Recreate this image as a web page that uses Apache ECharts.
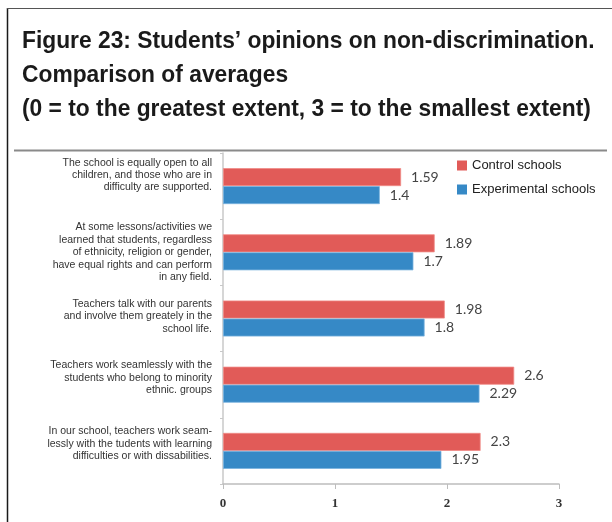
<!DOCTYPE html>
<html>
<head>
<meta charset="utf-8">
<script src="https://cdn.jsdelivr.net/npm/echarts@6/dist/echarts.min.js"></script>
<style>
  html, body { margin: 0; padding: 0; background: #ffffff; }
  #chart { width: 612px; height: 522px; }
</style>
</head>
<body>
<div id="chart"></div>
<script>
// Survey statements (top to bottom) and average scores per school group
const categories = [
  'The school is equally open to all\nchildren, and those who are in\ndifficulty are supported.',
  'At some lessons/activities we\nlearned that students, regardless\nof ethnicity, religion or gender,\nhave equal rights and can perform\nin any field.',
  'Teachers talk with our parents\nand involve them greately in the\nschool life.',
  'Teachers work seamlessly with the\nstudents who belong to minority\nethnic. groups',
  'In our school, teachers work seam-\nlessly with the tudents with learning\ndifficulties or with dissabilities.'
];
const controlSchools = [1.59, 1.89, 1.98, 2.6, 2.3];
const experimentalSchools = [1.4, 1.7, 1.8, 2.29, 1.95];
const xTicks = [0, 1, 2, 3];

const titleText = 'Figure 23: Students\u2019 opinions on non-discrimination.\nComparison of averages\n(0 = to the greatest extent, 3 = to the smallest extent)';

// upward nudge (px) for each wrapped statement label
const labelLift = [11, 0, 2, 7, 7];

// an invisible spacer line below a label lifts the centred block by half its height
const spacerRich = {};
labelLift.forEach((lift, i) => {
  spacerRich['s' + i] = { fontSize: 1, lineHeight: Math.max(1, lift * 2), height: Math.max(1, lift * 2) };
});

const chart = echarts.init(document.getElementById('chart'), null, { renderer: 'canvas' });

const option = {
  backgroundColor: '#ffffff',
  animation: false,
  graphic: [
    { type: 'line', shape: { x1: 7.5, y1: 8, x2: 7.5, y2: 522 }, style: { stroke: '#1a1a1a', lineWidth: 1.5 } },
    { type: 'line', shape: { x1: 7, y1: 8.5, x2: 612, y2: 8.5 }, style: { stroke: '#555555', lineWidth: 1.2 } },
    { type: 'line', shape: { x1: 14, y1: 150.5, x2: 607, y2: 150.5 }, style: { stroke: '#8a8a8a', lineWidth: 2 } },
    {
      type: 'text', x: 22, y: 24, scaleX: 0.95,
      style: {
        x: 0, y: 0,
        text: titleText,
        font: 'bold 24px "Liberation Sans", Arial, sans-serif',
        fill: '#1a1a1a',
        lineHeight: 34
      }
    }
  ],
  legend: {
    orient: 'vertical',
    left: 452,
    top: 154,
    icon: 'rect',
    itemWidth: 10,
    itemHeight: 10,
    itemGap: 11,
    itemStyle: { borderWidth: 0 },
    data: ['Control schools', 'Experimental schools'],
    textStyle: { fontFamily: '"Liberation Sans", Arial, sans-serif', fontSize: 13, color: '#222222' }
  },
  grid: { left: 223, right: 53, top: 153, bottom: 38 },
  xAxis: {
    type: 'value',
    min: 0,
    max: 3,
    interval: 1,
    splitLine: { show: false },
    axisLine: { show: true, lineStyle: { color: '#bdbdbd', width: 1.5 } },
    axisTick: { show: true, length: 5, lineStyle: { color: '#bdbdbd' } },
    axisLabel: {
      margin: 13,
      fontFamily: '"Liberation Serif", "Times New Roman", serif',
      fontWeight: 'bold',
      fontSize: 13,
      color: '#333333',
      formatter: v => (xTicks.indexOf(v) >= 0 ? String(v) : '')
    }
  },
  yAxis: {
    type: 'category',
    inverse: true,
    data: categories,
    axisLine: { show: true, lineStyle: { color: '#c8c8c8', width: 1.5 } },
    axisTick: { show: true, length: 3, lineStyle: { color: '#c8c8c8' } },
    axisLabel: {
      margin: 11,
      fontFamily: '"Liberation Sans", Arial, sans-serif',
      fontSize: 10.5,
      lineHeight: 12.4,
      color: '#333333',
      align: 'right',
      formatter: (value, index) => (labelLift[index] > 0 ? value + '\n{s' + index + '|}' : value),
      rich: spacerRich
    }
  },
  series: [
    {
      name: 'Control schools',
      type: 'bar',
      data: controlSchools,
      barWidth: 18,
      barGap: '0%',
      barCategoryGap: '45%',
      itemStyle: { color: '#e15b58', borderColor: '#f08a86', borderWidth: 0.8 },
      label: {
        show: true, position: 'right', distance: 10,
        fontFamily: 'Lato, "Open Sans", sans-serif', fontSize: 14, color: '#444444'
      }
    },
    {
      name: 'Experimental schools',
      type: 'bar',
      data: experimentalSchools,
      barWidth: 18,
      barGap: '0%',
      barCategoryGap: '45%',
      itemStyle: { color: '#3689c6', borderColor: '#7ab3de', borderWidth: 0.8 },
      label: {
        show: true, position: 'right', distance: 10,
        fontFamily: 'Lato, "Open Sans", sans-serif', fontSize: 14, color: '#444444'
      }
    }
  ]
};

chart.setOption(option);
</script>
</body>
</html>
